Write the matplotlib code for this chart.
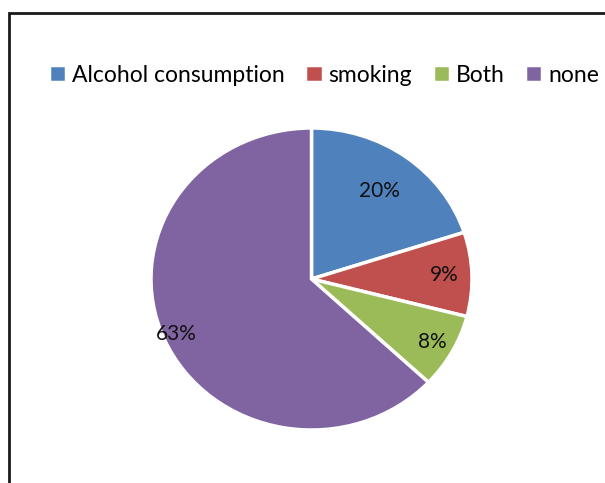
import numpy as np
import matplotlib
matplotlib.use("Agg")
from matplotlib import pyplot as plt
from matplotlib.patches import Rectangle

labels = ["Alcohol consumption", "smoking", "Both", "none"]
shares = [20, 9, 8, 63]
colors = ["#4F81BD", "#C0504D", "#9BBB59", "#8064A2"]
# distance of each percent label from the centre (fraction of radius)
label_dist = [0.72, 0.83, 0.86, 0.92]

plt.rcParams["font.family"] = ["Lato", "DejaVu Sans"]

W, H = 605, 483
fig = plt.figure(figsize=(W / 100, H / 100), dpi=100)

# chart frame (runs past right and bottom edges)
fig.patches.append(Rectangle((8.5 / W, -0.1), 1.2, 1 - 13 / H + 0.1,
                             transform=fig.transFigure, fill=False,
                             edgecolor="#1a1a1a", linewidth=2))

# pie is slightly stretched horizontally in the original
cx, cy, rx, ry = 311.5, 279, 160.5, 151
ax = fig.add_axes([(cx - rx) / W, (H - cy - ry) / H, 2 * rx / W, 2 * ry / H])
wedges, texts, autotexts = ax.pie(shares, colors=colors, startangle=90, counterclock=False,
                                  autopct="%d%%", radius=1,
                                  wedgeprops=dict(edgecolor="white", linewidth=2.5),
                                  textprops=dict(fontsize=15, color="#111111"))
for w, t, d in zip(wedges, autotexts, label_dist):
    ang = np.deg2rad((w.theta1 + w.theta2) / 2)
    t.set_position((d * np.cos(ang), d * np.sin(ang)))
ax.set_xlim(-1, 1)
ax.set_ylim(-1, 1)
ax.set_aspect("auto")
ax.axis("off")

fig.legend(wedges, labels, loc="center", bbox_to_anchor=(324 / W, 1 - 75 / H), ncol=4,
           frameon=False, fontsize=16.5, handlelength=0.75, handleheight=0.75,
           handletextpad=0.25, columnspacing=0.9)

fig.savefig("out.png", dpi=100)
